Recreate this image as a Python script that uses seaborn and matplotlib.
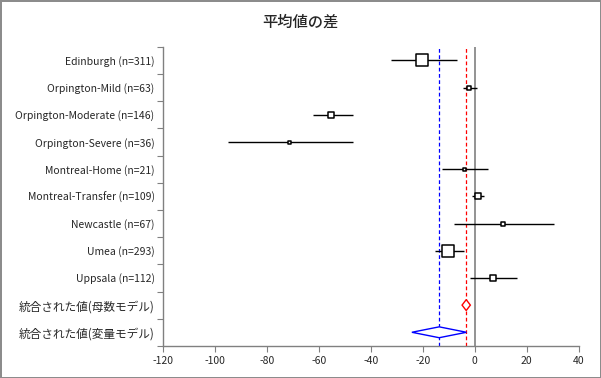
import numpy as np
import pandas as pd
import matplotlib
matplotlib.use("Agg")
import matplotlib.pyplot as plt
import seaborn as sns

# Données
studies = ["Edinburgh (n=311)", "Orpington-Mild (n=63)", "Orpington-Moderate (n=146)",
           "Orpington-Severe (n=36)", "Montreal-Home (n=21)", "Montreal-Transfer (n=109)",
           "Newcastle (n=67)", "Umea (n=293)", "Uppsala (n=112)"]
est = [-20.4, -2.2, -55.4, -71.2, -4.0, 1.3, 10.9, -10.3, 7.0]
ci_low = [-32.3, -4.5, -62.3, -94.8, -12.6, -1.0, -8.1, -15.4, -1.9]
ci_high = [-7.0, 0.9, -46.9, -46.7, 5.1, 3.6, 30.6, -4.1, 16.4]
box_px = [12, 4, 6, 3, 3, 6, 4, 12, 6]

pooled_labels = ["統合された値(母数モデル)", "統合された値(変量モデル)"]
pooled_est = [-3.3, -13.7]
pooled_low = [-4.9, -24.2]
pooled_high = [-1.7, -3.2]
pooled_colors = ["red", "blue"]

xticks = [-120, -100, -80, -60, -40, -20, 0, 20, 40]

sns.set_style("white")
plt.rcParams['font.family'] = ['Noto Sans CJK JP', 'DejaVu Sans']

df = pd.DataFrame({"label": studies, "est": est, "lo": ci_low, "hi": ci_high,
                   "box": box_px, "y": np.arange(len(studies))})

fig = plt.figure(figsize=(6.01, 3.78), dpi=100)
fig.patch.set_edgecolor("#8c8c8c")
fig.patch.set_linewidth(2)
ax = fig.add_axes([0.271, 0.085, 0.692, 0.791])

# lignes verticales
ax.axvline(0, color="#808080", lw=1.2, zorder=1)
ax.axvline(pooled_est[0], color="red", lw=0.9, ls=(0, (3, 2)), zorder=1)
ax.axvline(pooled_est[1], color="#0000ff", lw=0.9, ls=(0, (3, 2)), zorder=1)

# intervalles de confiance
ax.hlines(df["y"], df["lo"], df["hi"], color="black", lw=1, zorder=2)
sizes = {b: (b * 0.72) ** 2 for b in df["box"].unique()}
sns.scatterplot(data=df, x="est", y="y", size="box", sizes=sizes, marker="s",
                facecolor="white", edgecolor="black", linewidth=1.1,
                legend=False, ax=ax, zorder=3)

# losanges des modèles combinés
n = len(studies)
for i, (c, lo, hi, col) in enumerate(zip(pooled_est, pooled_low, pooled_high, pooled_colors)):
    yy = n + i
    h = 0.2
    ax.fill([lo, c, hi, c, lo], [yy, yy - h, yy, yy + h, yy], facecolor="white",
            edgecolor=col, lw=1, zorder=3)

labels = studies + pooled_labels
ax.set_ylim(len(labels) - 0.5, -0.5)
ax.set_yticks(np.arange(len(labels) + 1) - 0.5)
ax.set_yticklabels([])
ax.set_yticks(np.arange(len(labels)), minor=True)
ax.set_yticklabels(labels, minor=True, fontsize=7.5)
for lab in ax.get_yticklabels(minor=True)[n:]:
    lab.set_fontsize(8.4)
ax.tick_params(axis="y", which="major", length=4, color="#808080", left=True)
ax.tick_params(axis="y", which="minor", length=0, pad=6)

ax.set_xlim(-120, 40)
ax.set_xticks(xticks)
ax.set_xticklabels([str(t) for t in xticks], fontsize=7.5)
ax.tick_params(axis="x", length=4, color="#808080", bottom=True)
ax.set_xlabel("")
ax.set_ylabel("")

for s in ["top", "right"]:
    ax.spines[s].set_visible(False)
for s in ["left", "bottom"]:
    ax.spines[s].set_color("#808080")
    ax.spines[s].set_linewidth(1)

fig.suptitle("平均値の差", fontsize=11, fontweight="medium", y=0.965)

fig.savefig("out.png", dpi=100, edgecolor=fig.get_edgecolor())
